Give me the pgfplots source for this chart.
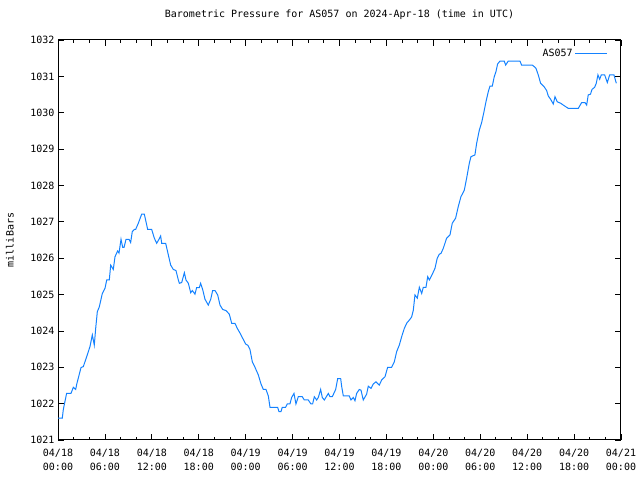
\documentclass[border=0pt]{standalone}
\usepackage{pgfplots}
\pgfplotsset{compat=1.18}
\usepackage{fontspec}
\setmainfont{DejaVu Sans Mono}
\newcommand{\gfont}{\fontsize{10bp}{14bp}\selectfont}
\definecolor{lineblue}{RGB}{20,130,255}
\begin{document}
\begin{tikzpicture}
\path[use as bounding box] (0,0) rectangle (640bp,480bp);
\begin{axis}[
  at={(58bp,40bp)}, anchor=south west,
  width=563bp, height=400bp, scale only axis,
  xmin=0, xmax=72, ymin=1021, ymax=1032,
  xtick={0,6,...,72},
  xticklabels={{04/18\\00:00},{04/18\\06:00},{04/18\\12:00},{04/18\\18:00},{04/19\\00:00},{04/19\\06:00},{04/19\\12:00},{04/19\\18:00},{04/20\\00:00},{04/20\\06:00},{04/20\\12:00},{04/20\\18:00},{04/21\\00:00}},
  minor x tick num=2,
  ytick={1021,1022,...,1032},
  yticklabel style={/pgf/number format/1000 sep={}, /pgf/number format/assume math mode=true, font=\gfont},
  xticklabel style={align=center, font=\gfont, yshift=-6bp},
  tick align=inside, xtick pos=both, ytick pos=both,
  major tick length=6bp, minor tick length=3bp,
  tick style={black, line width=0.8bp},
  axis line style={black, line width=1bp},
  title={Barometric Pressure for AS057 on 2024-Apr-18 (time in UTC)},
  title style={at={(0.5,1)}, anchor=base, yshift=17bp, font=\gfont},
  ylabel={milliBars},
  ylabel style={at={(axis description cs:-0.0853,0.5)}, anchor=center, font=\gfont},
  legend style={draw=none, fill=none, at={(rel axis cs:0.982,0.988)}, anchor=north east, font=\gfont, legend cell align=right},
  legend plot pos=right,
  legend image code/.code={\draw[#1] (4bp,0bp) -- (36bp,0bp);},
]
\addplot[lineblue, line width=1bp, mark=none] coordinates {
(0,1021.60) (0.55,1021.60) (0.68,1021.84) (1.1,1022.28) (1.66,1022.28) (1.96,1022.45) (2.26,1022.39) (2.39,1022.53) (2.94,1022.99) (3.24,1023.02) (3.67,1023.29) (4.09,1023.57) (4.39,1023.89) (4.64,1023.61) (4.82,1024.07) (5.03,1024.53) (5.28,1024.66) (5.67,1025.03) (6.01,1025.17) (6.23,1025.40) (6.56,1025.40) (6.74,1025.81) (7.07,1025.69) (7.29,1026.04) (7.63,1026.20) (7.80,1026.14) (8.06,1026.52) (8.27,1026.30) (8.45,1026.30) (8.70,1026.52) (9.08,1026.52) (9.29,1026.43) (9.50,1026.73) (9.76,1026.79) (9.93,1026.79) (10.27,1026.96) (10.70,1027.21) (11.04,1027.21) (11.47,1026.79) (11.98,1026.79) (12.32,1026.55) (12.62,1026.41) (12.92,1026.52) (13.13,1026.61) (13.26,1026.41) (13.77,1026.41) (14.11,1026.09) (14.41,1025.81) (14.75,1025.69) (15.09,1025.66) (15.39,1025.40) (15.52,1025.31) (15.82,1025.33) (16.16,1025.60) (16.37,1025.40) (16.67,1025.31) (16.97,1025.05) (17.18,1025.11) (17.52,1025.01) (17.73,1025.19) (18.07,1025.19) (18.24,1025.31) (18.50,1025.14) (18.80,1024.87) (19.22,1024.71) (19.53,1024.87) (19.78,1025.11) (20.08,1025.11) (20.42,1024.99) (20.72,1024.71) (21.06,1024.59) (21.48,1024.56) (21.91,1024.46) (22.21,1024.21) (22.63,1024.21) (22.93,1024.07) (23.3,1023.93) (24.0,1023.64) (24.3,1023.60) (24.55,1023.49) (24.85,1023.15) (25.19,1023.00) (25.62,1022.79) (25.96,1022.54) (26.26,1022.39) (26.60,1022.39) (26.90,1022.21) (27.11,1021.90) (28.09,1021.90) (28.26,1021.78) (28.52,1021.78) (28.68,1021.90) (29.10,1021.90) (29.32,1021.99) (29.66,1021.99) (29.88,1022.17) (30.18,1022.28) (30.43,1021.99) (30.73,1022.19) (31.24,1022.19) (31.50,1022.10) (32.01,1022.10) (32.35,1021.99) (32.56,1021.99) (32.78,1022.19) (33.08,1022.10) (33.29,1022.17) (33.59,1022.39) (33.80,1022.17) (34.06,1022.10) (34.57,1022.28) (34.79,1022.19) (35.08,1022.19) (35.51,1022.39) (35.77,1022.69) (36.15,1022.69) (36.28,1022.47) (36.49,1022.21) (37.25,1022.21) (37.47,1022.10) (37.76,1022.17) (37.98,1022.08) (38.19,1022.28) (38.53,1022.39) (38.75,1022.37) (39.04,1022.10) (39.47,1022.26) (39.68,1022.48) (40.03,1022.42) (40.32,1022.54) (40.66,1022.60) (41.09,1022.51) (41.39,1022.65) (41.82,1022.74) (42.16,1023.00) (42.67,1023.00) (43.01,1023.15) (43.31,1023.43) (43.65,1023.61) (43.95,1023.84) (44.29,1024.07) (44.59,1024.21) (45.01,1024.32) (45.22,1024.38) (45.44,1024.57) (45.65,1024.99) (45.95,1024.90) (46.21,1025.20) (46.51,1025.03) (46.72,1025.20) (47.06,1025.20) (47.28,1025.49) (47.50,1025.40) (47.91,1025.58) (48.21,1025.72) (48.50,1026.00) (48.76,1026.11) (48.98,1026.13) (49.27,1026.27) (49.70,1026.55) (50.13,1026.64) (50.42,1026.96) (50.85,1027.10) (51.19,1027.42) (51.53,1027.69) (51.96,1027.87) (52.26,1028.20) (52.60,1028.61) (52.81,1028.79) (53.32,1028.84) (53.54,1029.16) (53.88,1029.52) (54.18,1029.73) (54.48,1030.03) (54.73,1030.30) (55.03,1030.58) (55.24,1030.73) (55.54,1030.73) (55.79,1030.99) (56.01,1031.13) (56.22,1031.34) (56.52,1031.42) (57.07,1031.42) (57.25,1031.31) (57.58,1031.42) (59.08,1031.42) (59.29,1031.31) (60.65,1031.31) (61.0,1031.25) (61.13,1031.22) (61.42,1031.04) (61.72,1030.81) (62.15,1030.72) (62.49,1030.61) (62.70,1030.46) (63.00,1030.37) (63.34,1030.24) (63.56,1030.44) (63.85,1030.30) (64.29,1030.26) (64.62,1030.21) (65.26,1030.12) (66.54,1030.12) (66.97,1030.28) (67.39,1030.28) (67.61,1030.21) (67.81,1030.49) (68.10,1030.51) (68.29,1030.64) (68.63,1030.70) (68.84,1030.81) (69.05,1031.04) (69.27,1030.92) (69.48,1031.04) (69.91,1031.04) (70.25,1030.83) (70.55,1031.04) (71.10,1031.04) (71.40,1030.81)
};
\addlegendentry{AS057}
\end{axis}
\end{tikzpicture}
\end{document}
